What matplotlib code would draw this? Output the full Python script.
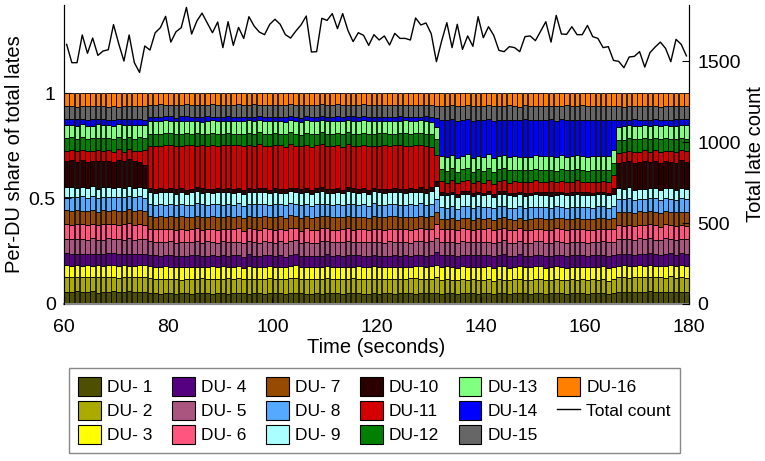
import numpy as np
import matplotlib
matplotlib.use("Agg")
import matplotlib.pyplot as plt
from matplotlib.patches import Patch
from matplotlib.lines import Line2D

plt.rcParams['font.family'] = ['Liberation Sans', 'DejaVu Sans']
plt.rcParams['font.size'] = 12

# one bar per second, 60 s .. 180 s
seconds = np.arange(60, 180)

# total number of late packets in each second
total_count = [
    1603, 1490, 1490, 1661, 1548, 1642, 1535, 1562, 1570, 1725,
    1607, 1500, 1661, 1490, 1430, 1593, 1568, 1675, 1706, 1776,
    1617, 1681, 1706, 1831, 1667, 1747, 1796, 1735, 1675, 1741,
    1583, 1743, 1597, 1708, 1640, 1774, 1716, 1679, 1663, 1727,
    1758, 1727, 1663, 1642, 1685, 1723, 1778, 1556, 1558, 1764,
    1751, 1793, 1700, 1793, 1690, 1620, 1675, 1659, 1597, 1663,
    1630, 1655, 1599, 1671, 1640, 1640, 1630, 1766, 1723, 1735,
    1669, 1496, 1624, 1737, 1583, 1727, 1572, 1655, 1591, 1774,
    1644, 1712, 1659, 1566, 1558, 1589, 1583, 1558, 1651, 1655,
    1626, 1684, 1743, 1617, 1782, 1667, 1665, 1712, 1663, 1663,
    1720, 1651, 1640, 1583, 1589, 1504, 1498, 1459, 1525, 1529,
    1558, 1463, 1552, 1587, 1617, 1578, 1496, 1634, 1603, 1532,
]

# per-DU share of the lates, in per mille (bottom of the stack first)
du01 = [58, 56, 60, 55, 57, 59, 54, 58, 56, 60, 57, 55, 59, 56, 58, 57, 52, 50, 49, 53,
        51, 48, 50, 52, 49, 51, 53, 50, 48, 52, 51, 49, 50, 53, 51, 48, 50, 52, 49, 51,
        50, 53, 48, 50, 52, 51, 49, 50, 52, 48, 51, 50, 53, 49, 50, 51, 52, 48, 50, 51,
        49, 52, 50, 48, 51, 53, 50, 49, 51, 52, 50, 51, 49, 52, 50, 48, 51, 50, 53, 49,
        50, 52, 48, 51, 50, 49, 52, 50, 51, 48, 52, 50, 49, 51, 53, 50, 48, 51, 50, 52,
        49, 51, 50, 52, 48, 50, 55, 57, 54, 58, 56, 55, 59, 54, 57, 56, 58, 55, 57, 56]
du02 = [72, 70, 68, 74, 71, 66, 73, 69, 75, 70, 68, 72, 67, 71, 70, 73, 69, 66, 71, 68,
        70, 72, 65, 69, 71, 67, 70, 68, 73, 66, 69, 71, 68, 70, 66, 72, 69, 67, 70, 71,
        68, 65, 70, 72, 69, 67, 71, 68, 66, 70, 72, 69, 67, 70, 68, 71, 66, 69, 72, 68,
        70, 67, 69, 71, 68, 66, 70, 72, 69, 67, 68, 70, 64, 66, 63, 67, 65, 62, 66, 64,
        65, 67, 63, 66, 64, 62, 67, 65, 63, 66, 64, 66, 62, 65, 67, 63, 64, 66, 62, 65,
        63, 66, 64, 65, 62, 67, 69, 71, 67, 70, 68, 72, 66, 70, 69, 67, 71, 68, 70, 66]
du03 = [55, 53, 57, 52, 56, 54, 58, 51, 55, 57, 53, 56, 54, 52, 57, 55, 58, 60, 56, 59,
        57, 55, 61, 58, 56, 59, 54, 57, 60, 56, 58, 55, 57, 60, 56, 62, 55, 58, 57, 59,
        56, 60, 55, 58, 61, 57, 55, 59, 56, 58, 60, 56, 58, 55, 59, 57, 61, 56, 58, 60,
        55, 58, 57, 60, 56, 59, 55, 58, 61, 57, 59, 56, 62, 60, 63, 58, 61, 64, 59, 62,
        60, 63, 58, 61, 64, 59, 62, 60, 63, 58, 61, 64, 59, 62, 60, 63, 58, 61, 64, 60,
        62, 59, 63, 60, 61, 58, 55, 53, 57, 52, 56, 54, 58, 53, 55, 57, 52, 56, 54, 57]
du04 = [55, 57, 53, 56, 54, 58, 52, 56, 55, 53, 57, 54, 56, 55, 53, 56, 52, 54, 51, 53,
        55, 52, 54, 51, 53, 56, 52, 54, 53, 51, 54, 52, 55, 53, 51, 54, 53, 52, 55, 53,
        52, 54, 51, 53, 55, 52, 54, 53, 51, 54, 53, 51, 54, 52, 55, 53, 52, 54, 51, 53,
        54, 52, 53, 55, 51, 54, 52, 53, 54, 52, 53, 55, 56, 54, 57, 55, 53, 56, 54, 57,
        55, 53, 56, 54, 57, 55, 53, 56, 55, 54, 56, 54, 57, 55, 53, 56, 54, 57, 55, 56,
        54, 56, 55, 53, 57, 55, 56, 54, 57, 53, 55, 57, 54, 56, 53, 55, 57, 54, 56, 55]
du05 = [70, 72, 68, 71, 69, 73, 67, 70, 72, 68, 71, 69, 73, 70, 68, 71, 65, 63, 67, 64,
        66, 62, 65, 67, 63, 66, 64, 68, 62, 65, 67, 63, 66, 64, 65, 62, 67, 64, 66, 63,
        65, 67, 63, 66, 64, 62, 66, 65, 63, 67, 64, 66, 62, 65, 67, 63, 65, 64, 66, 62,
        65, 63, 67, 64, 66, 65, 62, 66, 64, 67, 63, 65, 62, 64, 61, 63, 65, 62, 64, 61,
        63, 62, 65, 61, 64, 63, 62, 64, 61, 63, 62, 64, 61, 63, 65, 62, 64, 61, 63, 62,
        64, 61, 63, 62, 65, 63, 68, 70, 67, 69, 71, 68, 70, 67, 69, 72, 68, 70, 67, 69]
du06 = [70, 68, 72, 69, 71, 67, 70, 73, 68, 71, 69, 72, 68, 70, 71, 69, 60, 62, 58, 61,
        59, 62, 60, 58, 63, 60, 61, 59, 62, 60, 58, 61, 60, 63, 59, 61, 58, 62, 60, 59,
        61, 59, 62, 60, 58, 61, 63, 59, 60, 62, 60, 58, 61, 59, 62, 60, 59, 61, 58, 62,
        61, 59, 60, 62, 58, 61, 60, 59, 62, 60, 59, 61, 60, 58, 62, 59, 61, 60, 58, 61,
        60, 62, 58, 61, 59, 60, 62, 59, 61, 58, 61, 59, 62, 60, 58, 61, 60, 62, 59, 61,
        60, 58, 61, 59, 62, 60, 66, 64, 67, 65, 63, 66, 65, 68, 64, 66, 63, 67, 65, 64]
du07 = [66, 64, 67, 63, 65, 68, 62, 66, 64, 67, 65, 63, 66, 64, 67, 65, 59, 57, 61, 58,
        60, 58, 61, 59, 57, 60, 62, 58, 59, 61, 58, 60, 57, 61, 59, 58, 60, 62, 57, 59,
        61, 58, 60, 59, 57, 61, 58, 60, 62, 59, 58, 60, 61, 57, 59, 62, 58, 60, 59, 61,
        59, 61, 58, 60, 57, 59, 61, 58, 60, 59, 58, 57, 51, 49, 52, 48, 50, 53, 49, 51,
        50, 48, 52, 51, 49, 53, 50, 48, 51, 52, 49, 51, 50, 53, 48, 50, 52, 49, 51, 50,
        52, 49, 51, 48, 50, 52, 61, 63, 60, 64, 62, 60, 63, 61, 64, 62, 60, 63, 61, 62]
du08 = [64, 66, 63, 67, 65, 62, 66, 64, 67, 63, 65, 67, 64, 66, 63, 65, 58, 56, 60, 57,
        59, 57, 60, 58, 56, 59, 61, 57, 58, 60, 57, 59, 56, 60, 58, 57, 59, 61, 56, 58,
        60, 57, 59, 58, 56, 60, 57, 59, 61, 58, 57, 59, 60, 56, 58, 61, 57, 59, 58, 60,
        58, 60, 57, 59, 56, 58, 60, 57, 59, 58, 57, 59, 55, 53, 56, 54, 57, 55, 53, 56,
        54, 56, 53, 57, 55, 54, 56, 53, 55, 57, 55, 53, 56, 54, 57, 55, 53, 56, 54, 55,
        56, 54, 55, 57, 53, 56, 63, 61, 64, 62, 60, 63, 61, 64, 62, 60, 63, 61, 64, 62]
du09 = [45, 47, 43, 46, 44, 48, 42, 46, 45, 43, 47, 44, 46, 45, 43, 46, 56, 58, 55, 59,
        57, 55, 58, 56, 59, 57, 54, 58, 56, 57, 59, 56, 58, 55, 57, 60, 56, 58, 57, 55,
        58, 56, 59, 57, 55, 58, 60, 56, 57, 59, 56, 58, 57, 55, 59, 57, 56, 58, 60, 57,
        57, 55, 58, 56, 59, 57, 55, 58, 56, 57, 58, 56, 57, 59, 55, 58, 56, 57, 59, 56,
        57, 59, 55, 58, 56, 57, 59, 56, 58, 55, 58, 56, 57, 59, 55, 58, 57, 56, 59, 57,
        56, 58, 57, 55, 59, 57, 49, 47, 50, 48, 46, 49, 47, 50, 48, 46, 49, 47, 48, 50]
du10 = [125, 130, 122, 128, 126, 120, 131, 124, 127, 122, 129, 126, 123, 128, 121, 110, 20, 17, 19, 16,
        18, 20, 17, 19, 16, 18, 21, 17, 19, 18, 16, 19, 18, 20, 17, 19, 16, 18, 20, 17,
        19, 17, 18, 16, 20, 18, 19, 17, 18, 20, 17, 19, 18, 16, 19, 20, 17, 18, 19, 16,
        18, 20, 17, 19, 18, 16, 19, 17, 20, 18, 19, 22, 14, 12, 13, 15, 12, 14, 13, 11,
        13, 15, 12, 14, 13, 11, 14, 12, 15, 13, 12, 14, 13, 15, 11, 13, 12, 14, 13, 15,
        14, 12, 13, 11, 14, 30, 118, 126, 121, 128, 124, 130, 122, 127, 125, 129, 123, 128, 126, 124]
du11 = [48, 45, 50, 47, 52, 46, 49, 44, 51, 47, 50, 46, 48, 45, 52, 75, 200, 205, 198, 210,
        203, 207, 200, 211, 204, 198, 206, 202, 209, 200, 205, 199, 207, 203, 210, 201, 204, 208, 199, 206,
        202, 209, 200, 205, 198, 207, 203, 210, 201, 204, 206, 200, 208, 202, 205, 199, 207, 203, 209, 201,
        204, 208, 200, 206, 202, 209, 199, 205, 203, 207, 190, 120, 52, 48, 55, 50, 47, 53, 49, 51,
        48, 54, 50, 46, 52, 49, 55, 47, 51, 50, 53, 48, 51, 55, 47, 50, 52, 49, 54, 48,
        50, 53, 47, 51, 49, 60, 45, 50, 47, 52, 48, 51, 46, 50, 53, 47, 49, 52, 48, 51]
du12 = [60, 63, 58, 61, 57, 62, 59, 64, 58, 61, 59, 62, 57, 60, 63, 58, 57, 55, 59, 56,
        58, 54, 57, 59, 55, 58, 56, 60, 54, 57, 55, 58, 56, 54, 59, 57, 55, 58, 56, 60,
        57, 55, 59, 56, 58, 54, 57, 60, 55, 58, 56, 59, 55, 58, 57, 60, 54, 57, 59, 55,
        58, 56, 59, 55, 57, 58, 56, 59, 54, 57, 58, 70, 56, 54, 57, 53, 55, 58, 54, 56,
        55, 57, 53, 56, 54, 58, 55, 53, 57, 54, 56, 54, 57, 53, 55, 58, 54, 56, 53, 57,
        54, 57, 55, 53, 56, 58, 60, 57, 61, 58, 59, 56, 60, 57, 62, 58, 56, 60, 57, 59]
du13 = [62, 58, 64, 60, 63, 57, 65, 61, 59, 63, 60, 64, 58, 62, 59, 61, 60, 63, 58, 62,
        59, 61, 63, 58, 62, 60, 57, 61, 63, 59, 62, 58, 60, 63, 59, 61, 62, 57, 60, 63,
        58, 62, 60, 59, 63, 61, 58, 62, 60, 57, 61, 63, 59, 62, 58, 60, 63, 59, 61, 62,
        60, 58, 62, 61, 59, 63, 60, 58, 62, 61, 59, 55, 64, 67, 63, 66, 62, 65, 68, 63,
        66, 63, 67, 64, 62, 65, 68, 63, 66, 64, 63, 66, 64, 68, 62, 65, 63, 67, 64, 66,
        65, 62, 66, 64, 67, 63, 62, 64, 60, 63, 61, 64, 62, 60, 63, 61, 64, 62, 60, 63]
du14 = [28, 25, 30, 22, 27, 31, 24, 29, 26, 32, 23, 28, 25, 30, 26, 24, 20, 18, 22, 19,
        21, 17, 20, 23, 19, 18, 22, 20, 17, 21, 19, 22, 18, 20, 23, 17, 21, 19, 22, 18,
        20, 18, 22, 19, 17, 21, 20, 23, 18, 19, 22, 19, 21, 18, 20, 23, 17, 20, 22, 19,
        18, 21, 19, 22, 20, 17, 21, 19, 18, 22, 20, 40, 170, 175, 168, 178, 172, 165, 176, 170,
        174, 168, 177, 171, 166, 175, 173, 169, 178, 172, 167, 174, 170, 176, 171, 168, 175, 172, 169, 173,
        176, 170, 173, 168, 175, 140, 35, 30, 27, 32, 28, 25, 30, 26, 29, 24, 28, 31, 26, 27]
du15 = [62, 65, 60, 63, 66, 61, 64, 59, 63, 65, 61, 64, 60, 63, 62, 65, 57, 55, 58, 54,
        56, 58, 55, 57, 54, 59, 56, 55, 58, 56, 57, 54, 56, 59, 55, 57, 58, 54, 56, 57,
        55, 58, 56, 54, 57, 59, 55, 56, 58, 54, 57, 55, 58, 56, 54, 57, 59, 55, 56, 58,
        56, 58, 54, 57, 55, 56, 58, 57, 55, 56, 57, 55, 66, 68, 64, 69, 65, 67, 70, 66,
        68, 65, 69, 66, 64, 67, 70, 65, 68, 66, 67, 64, 68, 66, 70, 65, 67, 69, 64, 68,
        66, 69, 65, 67, 64, 66, 63, 61, 64, 62, 65, 62, 64, 61, 63, 66, 62, 64, 61, 63]
du16 = [63, 60, 65, 61, 64, 62, 59, 63, 66, 61, 64, 61, 63, 60, 62, 64, 56, 58, 54, 57,
        55, 58, 56, 54, 57, 55, 59, 56, 54, 57, 56, 54, 58, 55, 57, 56, 54, 58, 55, 57,
        58, 55, 57, 54, 56, 58, 55, 57, 56, 54, 55, 57, 54, 58, 56, 55, 57, 54, 58, 56,
        57, 55, 58, 56, 54, 57, 55, 56, 58, 55, 56, 57, 60, 62, 59, 63, 61, 58, 62, 60,
        61, 59, 63, 60, 62, 58, 61, 63, 59, 62, 60, 62, 59, 61, 63, 60, 58, 62, 61, 59,
        62, 60, 61, 59, 63, 61, 62, 64, 60, 63, 61, 63, 60, 62, 64, 61, 63, 60, 62, 61]

du_shares = [du01, du02, du03, du04, du05, du06, du07, du08,
             du09, du10, du11, du12, du13, du14, du15, du16]
du_labels = ['DU-%2d' % k for k in range(1, 17)]
du_colors = ['#4f4f00', '#aaaa00', '#ffff00', '#55007f', '#aa557f', '#ff557f',
             '#964b00', '#55aaff', '#aaffff', '#2a0000', '#d40000', '#007f00',
             '#80ff80', '#0000ff', '#666666', '#ff7f00']

# scale each second so the stack sums to 1
shares = np.array(du_shares, dtype=float)
shares = shares / shares.sum(axis=0)

fig = plt.figure(figsize=(7.65, 4.61), dpi=100)
ax = fig.add_axes([0.0837, 0.3406, 0.8170, 0.6485])
ax2 = ax.twinx()

x = seconds + 0.5
bottom = np.zeros(len(seconds))
for k in range(16):
    ax.bar(x, shares[k], width=0.9, bottom=bottom, color=du_colors[k],
           edgecolor='black', linewidth=0.6)
    bottom += shares[k]

ax2.plot(x, total_count, color='black', linewidth=1.0)

ax.set_xlim(60, 180)
ax.set_ylim(0, 1.417)
ax2.set_ylim(0, 1846)
ax.set_xticks(np.arange(60, 181, 20))
ax.set_yticks([0, 0.5, 1])
ax.set_yticklabels(['0', '0.5', '1'])
ax2.set_yticks([0, 500, 1000, 1500])

for a in (ax, ax2):
    a.spines['top'].set_visible(False)
    a.tick_params(direction='in', length=5, width=0.8, labelsize=14, pad=6)
ax.tick_params(axis='x', pad=11)
ax.spines['bottom'].set_color('#888888')
ax.spines['bottom'].set_linewidth(1.5)
ax2.spines['bottom'].set_visible(False)

ax.set_xlabel('Time (seconds)', fontsize=14.5, labelpad=1)
ax.set_ylabel('Per-DU share of total lates', fontsize=14.5, labelpad=3)
ax2.set_ylabel('Total late count', fontsize=14.5, labelpad=4)

handles = [Patch(facecolor=c, edgecolor='black', linewidth=0.8) for c in du_colors]
handles.append(Line2D([], [], color='black', linewidth=1.0))
labels = du_labels + ['Total count']
leg = fig.legend(handles, labels, ncol=6, loc='center',
                 bbox_to_anchor=(0.4895, 0.1095), fontsize=12.5,
                 handlelength=1.32, handleheight=1.32, handletextpad=0.35,
                 columnspacing=1.12, labelspacing=0.28, borderpad=0.5,
                 fancybox=False, framealpha=1)
leg.get_frame().set_edgecolor('#888888')
leg.get_frame().set_linewidth(1.0)

fig.savefig('out.png', dpi=100)
